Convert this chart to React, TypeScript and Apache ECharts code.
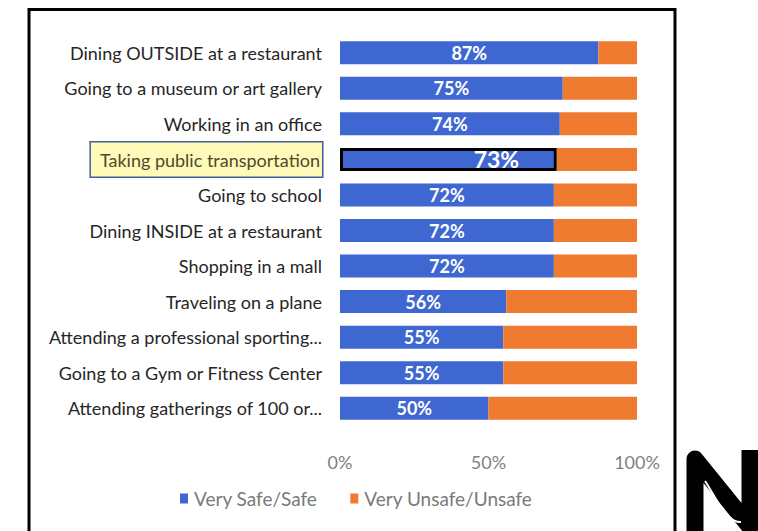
import React, { useEffect, useRef } from "react";
import * as echarts from "echarts";

const categories = [
  "Dining OUTSIDE at a restaurant",
  "Going to a museum or art gallery",
  "Working in an office",
  "Taking public transportation",
  "Going to school",
  "Dining INSIDE at a restaurant",
  "Shopping in a mall",
  "Traveling on a plane",
  "Attending a professional sporting...",
  "Going to a Gym or Fitness Center",
  "Attending gatherings of 100 or...",
];
const safeValues = [87, 75, 74, 73, 72, 72, 72, 56, 55, 55, 50];
const unsafeValues = [13, 25, 26, 27, 28, 28, 28, 44, 45, 45, 50];
const seriesNames = ["Very Safe/Safe", "Very Unsafe/Unsafe"];
const xTicks = [0, 50, 100];
const highlightIndex = 3;

const FONT = "Lato";
const BLUE = "#3F67D1";
const ORANGE = "#EE7B30";

export default function App() {
  const ref = useRef<HTMLDivElement>(null);
  useEffect(() => {
    if (!ref.current) return;
    const chart = echarts.init(ref.current, null, { renderer: "svg" });
    const option: any = {
      animation: false,
      backgroundColor: "#ffffff",
      grid: { left: 340, right: 121, top: 35, bottom: 105, containLabel: false },
      legend: {
        data: seriesNames,
        left: 175,
        top: 484,
        itemWidth: 8,
        itemHeight: 10,
        itemGap: 33,
        icon: "rect",
        textStyle: { fontFamily: FONT, fontSize: 19, color: "#7a7a7a", padding: [0, 0, 0, 1] },
      },
      xAxis: {
        type: "value",
        min: xTicks[0],
        max: xTicks[xTicks.length - 1],
        interval: 50,
        axisLine: { show: false },
        axisTick: { show: false },
        splitLine: { show: false },
        axisLabel: {
          formatter: "{value}%",
          fontFamily: FONT,
          fontSize: 18,
          color: "#7f7f7f",
          margin: 27,
        },
      },
      yAxis: {
        type: "category",
        data: categories,
        inverse: true,
        axisLine: { show: false },
        axisTick: { show: false },
        splitLine: { show: false },
        axisLabel: {
          margin: 18,
          formatter: (v: string, i: number) =>
            i === highlightIndex ? `{hl|${v}}` : `{n|${v}}`,
          rich: {
            n: { fontFamily: FONT, fontSize: 18, color: "#262626" },
            hl: {
              fontFamily: FONT,
              fontSize: 18,
              color: "#4d4a2c",
              backgroundColor: "#FFFAB8",
              borderColor: "#3F5E9C",
              borderWidth: 1.5,
              padding: [9, 2, 7, 9],
            },
          },
        },
      },
      series: [
        {
          name: seriesNames[0],
          type: "bar",
          stack: "total",
          barWidth: 23,
          itemStyle: { color: BLUE },
          label: {
            show: true,
            position: "inside",
            formatter: "{c}%",
            color: "#ffffff",
            fontFamily: FONT,
            fontSize: 18,
            fontWeight: "bold",
          },
          data: safeValues.map((v, i) =>
            i === highlightIndex
              ? {
                  value: v,
                  itemStyle: { color: BLUE, borderColor: "#000000", borderWidth: 3 },
                  label: { fontSize: 23, offset: [48, 0] },
                }
              : v
          ),
        },
        {
          name: seriesNames[1],
          type: "bar",
          stack: "total",
          barWidth: 23,
          itemStyle: { color: ORANGE },
          data: unsafeValues,
        },
      ],
      graphic: [
        {
          type: "rect",
          shape: { x: 29, y: 9.5, width: 646, height: 540 },
          style: { fill: "none", stroke: "#000000", lineWidth: 3 },
          silent: true,
        },
        {
          type: "polyline",
          shape: { points: [[695, 545], [695, 459], [750, 527], [750, 450]] },
          style: { fill: "none", stroke: "#000000", lineWidth: 17, lineJoin: "round" },
          silent: true,
        },
        {
          type: "bezierCurve",
          shape: { x1: 705, y1: 481, x2: 741, y2: 522, cpx1: 714, cpy1: 494, cpx2: 727, cpy2: 524 },
          style: { fill: "none", stroke: "#ffffff", lineWidth: 2 },
          silent: true,
        },
      ],
    };
    chart.setOption(option);
    return () => chart.dispose();
  }, []);
  return (
    <div
      ref={ref}
      style={{ position: "fixed", left: 0, top: 0, width: 758, height: 531 }}
    />
  );
}
